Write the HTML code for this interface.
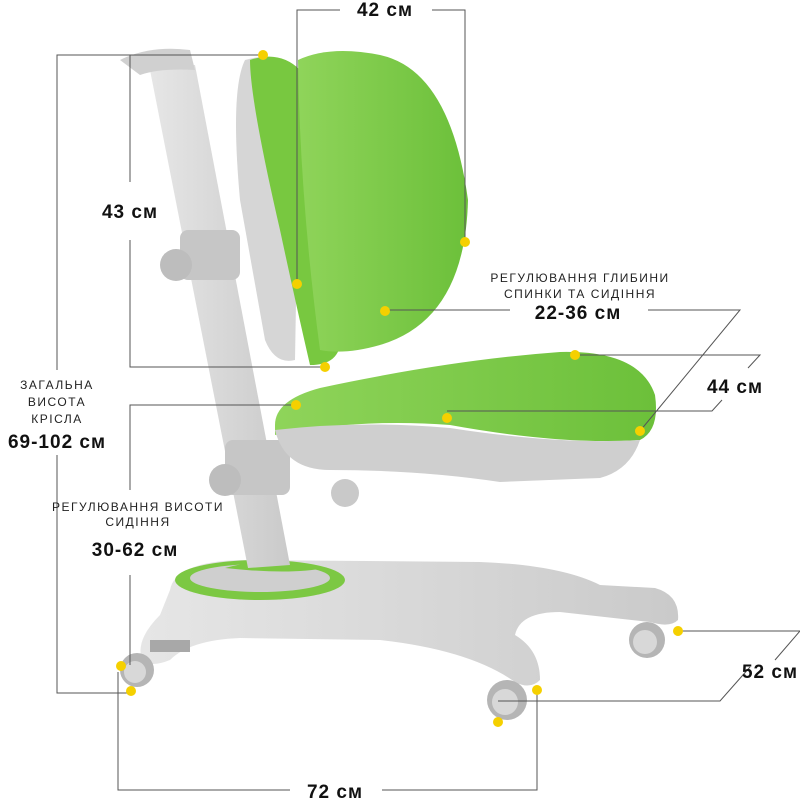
<!DOCTYPE html>
<html><head><meta charset="utf-8"><style>
html,body{margin:0;padding:0;background:#fff}
svg{display:block}
.b{font-family:"Liberation Sans",sans-serif;font-weight:bold;font-size:19px;fill:#111;text-anchor:middle;letter-spacing:1px}
.s{font-family:"Liberation Sans",sans-serif;font-size:12px;fill:#222;text-anchor:middle;letter-spacing:1.5px}
.l{stroke:#555;stroke-width:1;fill:none}
</style></head><body>
<svg width="800" height="800" viewBox="0 0 800 800">
<defs>
<linearGradient id="g" x1="0" x2="1"><stop offset="0" stop-color="#8fd45a"/><stop offset="1" stop-color="#6cc03a"/></linearGradient>
<linearGradient id="gr" x1="0" x2="1"><stop offset="0" stop-color="#e6e6e6"/><stop offset="1" stop-color="#cacaca"/></linearGradient>
</defs>
<!-- base -->
<path d="M170,590 Q175,562 240,560 L480,562 Q560,565 600,585 L655,588 Q680,595 678,620 Q670,628 650,622 L560,612 Q520,612 515,635 Q540,650 540,680 Q530,690 515,682 Q470,650 380,640 L240,638 Q190,640 170,660 Q150,668 142,660 Q135,640 160,615 Z" fill="url(#gr)"/>
<ellipse cx="260" cy="580" rx="85" ry="20" fill="#7cc843"/>
<ellipse cx="260" cy="578" rx="70" ry="14" fill="#cfcfcf"/>
<path d="M225,568 Q270,555 325,568 Q290,575 225,568Z" fill="#7cc843"/>
<!-- wheels -->
<circle cx="137" cy="670" r="17" fill="#b5b5b5"/><circle cx="135" cy="672" r="11" fill="#d8d8d8"/>
<circle cx="647" cy="640" r="18" fill="#b5b5b5"/><circle cx="645" cy="642" r="12" fill="#d8d8d8"/>
<circle cx="507" cy="700" r="20" fill="#b5b5b5"/><circle cx="505" cy="702" r="13" fill="#d8d8d8"/>
<rect x="150" y="640" width="40" height="12" fill="#a8a8a8"/>
<!-- post -->
<path d="M150,70 L195,65 L290,565 L248,568 Z" fill="url(#gr)"/>
<path d="M120,60 Q150,45 190,50 L195,70 Q160,68 140,75 Z" fill="#d0d0d0"/>
<rect x="180" y="230" width="60" height="50" rx="8" fill="#c6c6c6"/>
<circle cx="176" cy="265" r="16" fill="#bdbdbd"/>
<rect x="225" y="440" width="65" height="55" rx="8" fill="#c6c6c6"/>
<circle cx="225" cy="480" r="16" fill="#bdbdbd"/>
<circle cx="345" cy="493" r="14" fill="#c9c9c9"/>
<!-- backrest -->
<path d="M245,60 Q280,50 300,70 L295,360 Q275,365 265,340 L240,200 Q230,90 245,60Z" fill="#d6d6d6"/>
<path d="M250,60 Q280,50 300,70 Q320,200 340,330 Q345,365 310,365 Q295,300 280,230 Q250,100 250,60Z" fill="#78c840"/>
<path d="M298,60 Q330,45 380,55 Q450,70 468,200 Q465,320 380,345 Q345,355 320,350 Q300,200 298,60Z" fill="url(#g)"/>
<!-- seat -->
<path d="M275,425 Q275,400 320,388 Q450,360 560,352 Q640,350 655,395 Q660,430 640,440 Q560,445 450,425 Q360,418 275,435Z" fill="url(#g)"/>
<path d="M275,430 Q360,420 450,428 Q560,445 640,440 Q630,470 600,478 L500,482 Q420,470 330,470 Q285,470 275,430Z" fill="#cfcfcf"/>
<!-- lines -->
<path class="l" d="M297,284 V10 H340 M432,10 H465 V242"/>
<path class="l" d="M57,370 V55 H263 M130,55 V182 M130,240 V367 H325"/>
<path class="l" d="M57,455 V693 H131"/>
<path class="l" d="M296,405 H130 V490 M130,575 V665"/>
<path class="l" d="M118,672 V790 H290 M382,790 H537 V690"/>
<path class="l" d="M385,310 H510 M648,310 H740 L640,431"/>
<path class="l" d="M575,355 H760 L748,368 M447,411 H712 L722,400"/>
<path class="l" d="M678,631 H800 L775,660 M498,701 H720 L750,667"/>
<!-- dots -->
<g fill="#f5d000">
<circle cx="263" cy="55" r="5"/><circle cx="297" cy="284" r="5"/><circle cx="465" cy="242" r="5"/>
<circle cx="325" cy="367" r="5"/><circle cx="385" cy="311" r="5"/><circle cx="296" cy="405" r="5"/>
<circle cx="575" cy="355" r="5"/><circle cx="447" cy="418" r="5"/><circle cx="640" cy="431" r="5"/>
<circle cx="121" cy="666" r="5"/><circle cx="131" cy="691" r="5"/><circle cx="678" cy="631" r="5"/>
<circle cx="537" cy="690" r="5"/><circle cx="498" cy="722" r="5"/>
</g>
<!-- text -->
<text class="b" x="385" y="16">42 см</text>
<text class="b" x="130" y="218">43 см</text>
<text class="s" x="57" y="389">ЗАГАЛЬНА</text>
<text class="s" x="57" y="406">ВИСОТА</text>
<text class="s" x="57" y="423">КРІСЛА</text>
<text class="b" x="57" y="448">69-102 см</text>
<text class="s" x="138" y="511">РЕГУЛЮВАННЯ ВИСОТИ</text>
<text class="s" x="138" y="526">СИДІННЯ</text>
<text class="b" x="135" y="556">30-62 см</text>
<text class="s" x="580" y="282">РЕГУЛЮВАННЯ ГЛИБИНИ</text>
<text class="s" x="580" y="298">СПИНКИ ТА СИДІННЯ</text>
<text class="b" x="578" y="319">22-36 см</text>
<text class="b" x="735" y="393">44 см</text>
<text class="b" x="770" y="678">52 см</text>
<text class="b" x="335" y="798">72 см</text>
</svg>
</body></html>
